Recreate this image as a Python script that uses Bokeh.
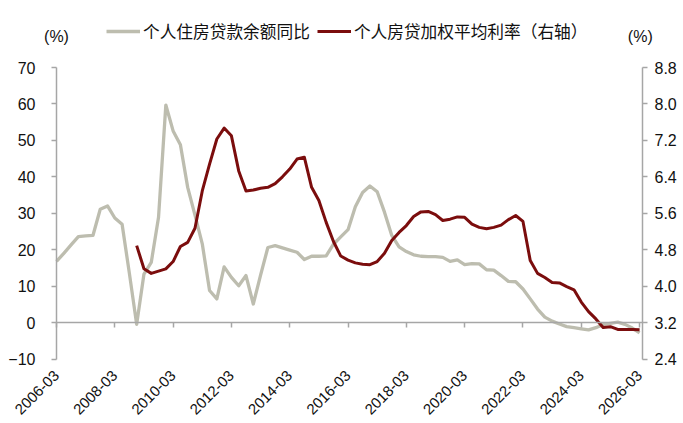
import math
from bokeh.plotting import figure
from bokeh.models import (Range1d, LinearAxis, FixedTicker, Legend, LegendItem,
                          ColumnDataSource, PrintfTickFormatter)
from bokeh.core.properties import value
from bokeh.embed import file_html
from bokeh.resources import INLINE

# ---------------- data ----------------
dates = [f"{y}-{m:02d}" for y in range(2006, 2027) for m in (3, 6, 9, 12)][:81]

x_tick_labels = ["2006-03", "2008-03", "2010-03", "2012-03", "2014-03", "2016-03",
                 "2018-03", "2020-03", "2022-03", "2024-03", "2026-03"]
left_ticks = [-10, 0, 10, 20, 30, 40, 50, 60, 70]
right_ticks = [2.4, 3.2, 4.0, 4.8, 5.6, 6.4, 7.2, 8.0, 8.8]

loan_yoy = [16.8, 19.0, 21.3, 23.6, 23.8, 23.9, 31.1, 32.0, 28.7, 27.0,
            13.5, -0.5, 13.3, 16.5, 28.9, 59.7, 52.6, 48.8, 37.1, 29.5,
            21.6, 8.8, 6.5, 15.3, 12.4, 10.1, 12.9, 5.1, 13.0, 20.6,
            21.1, 20.5, 19.9, 19.3, 17.3, 18.2, 18.2, 18.3, 21.5, 23.5,
            25.5, 31.8, 35.7, 37.5, 35.9, 30.3, 23.9, 20.8, 19.5, 18.6,
            18.2, 18.1, 18.1, 17.9, 16.8, 17.2, 15.9, 16.2, 16.1, 14.5,
            14.4, 12.9, 11.3, 11.2, 9.2, 6.5, 3.7, 1.5, 0.4, -0.4,
            -1.1, -1.4, -1.7, -2.0, -1.4, -0.5, -0.2, 0.1, -0.5, -1.5,
            -2.8]

nan = float("nan")
mortgage_rate = [nan, nan, nan, nan, nan, nan, nan, nan, nan, nan,
                 nan, 4.89, 4.38, 4.28, 4.33, 4.38, 4.54, 4.87, 4.96, 5.27,
                 6.09, 6.68, 7.23, 7.47, 7.30, 6.53, 6.09, 6.11, 6.15, 6.17,
                 6.25, 6.40, 6.57, 6.79, 6.83, 6.17, 5.88, 5.40, 4.98, 4.66,
                 4.57, 4.51, 4.48, 4.47, 4.54, 4.72, 5.00, 5.18, 5.33, 5.53,
                 5.63, 5.64, 5.57, 5.44, 5.47, 5.52, 5.51, 5.36, 5.29, 5.26,
                 5.29, 5.34, 5.46, 5.55, 5.42, 4.56, 4.28, 4.19, 4.08, 4.07,
                 3.99, 3.92, 3.65, 3.44, 3.28, 3.09, 3.11, 3.05, 3.05, 3.05,
                 3.04]

series_names = ["个人住房贷款余额同比", "个人房贷加权平均利率（右轴）"]
unit_labels = ["(%)", "(%)"]

# ---------------- styles / geometry ----------------
GRAY = "#bdbdaf"
RED = "#7b0d0d"
AXIS = "#a6a6a6"
TEXT = "#111111"
NUM_FONT = "Liberation Sans"
CJK_FONT = "Noto Sans CJK SC"

W, H = 683, 423
PX_L, PX_R = 56, 642        # plot area (px)
PX_T, PX_B = 67, 358.5
X_LAST = 80.4
Y0, Y1 = -10, 70
R0, R1 = 2.4, 8.8

sx = (PX_R - PX_L) / X_LAST
sy = (PX_B - PX_T) / (Y1 - Y0)
x_range = Range1d(-PX_L / sx, X_LAST + (W - PX_R) / sx)
y_range = Range1d(Y0 - (H - PX_B) / sy, Y1 + PX_T / sy)
k = (R1 - R0) / (Y1 - Y0)
r_range = Range1d(R0 + (y_range.start - Y0) * k, R0 + (y_range.end - Y0) * k)

idx = list(range(len(dates)))
src = ColumnDataSource(dict(x=idx, yoy=loan_yoy, rate=mortgage_rate))

p = figure(width=W, height=H, output_backend="svg", toolbar_location=None,
           x_range=x_range, y_range=y_range, x_axis_type=None, y_axis_type=None,
           min_border=0)
p.extra_y_ranges = {"right": r_range}
p.outline_line_color = None
p.grid.visible = False


def style_axis(ax, size="16px"):
    ax.axis_line_color = AXIS
    ax.axis_line_width = 1.5
    ax.major_tick_line_color = AXIS
    ax.major_tick_line_width = 1.5
    ax.major_tick_out = 5
    ax.major_tick_in = 0
    ax.minor_tick_line_color = None
    ax.major_label_text_font = NUM_FONT
    ax.major_label_text_font_size = size
    ax.major_label_text_color = TEXT


# left axis pinned at x = 0
la = LinearAxis(ticker=FixedTicker(ticks=left_ticks), fixed_location=0, bounds=(Y0, Y1))
style_axis(la)
la.major_label_standoff = 16
p.add_layout(la, "left")

# right axis pinned at the right edge of the plot area
ra = LinearAxis(y_range_name="right", ticker=FixedTicker(ticks=right_ticks),
                formatter=PrintfTickFormatter(format="%.1f"),
                fixed_location=X_LAST, bounds=(R0, R1))
style_axis(ra)
ra.major_label_standoff = 7
p.add_layout(ra, "right")

# category axis line at zero (ticks only)
tick_idx = [dates.index(t) for t in x_tick_labels]
za = LinearAxis(ticker=FixedTicker(ticks=tick_idx), fixed_location=0, bounds=(0, X_LAST))
style_axis(za)
za.major_label_text_font_size = "0px"
za.major_label_text_alpha = 0
p.add_layout(za, "below")

# date labels at the bottom of the plot area
xa = LinearAxis(ticker=FixedTicker(ticks=tick_idx), fixed_location=Y0)
style_axis(xa, "15px")
xa.axis_line_color = None
xa.major_tick_line_color = None
xa.major_tick_out = 0
xa.major_label_standoff = 14
xa.major_label_overrides = {i: t for i, t in zip(tick_idx, x_tick_labels)}
xa.major_label_orientation = math.pi / 4
p.add_layout(xa, "below")

r1 = p.line("x", "yoy", source=src, line_color=GRAY, line_width=3.3, line_join="round")
r2 = p.line("x", "rate", source=src, line_color=RED, line_width=3.0, line_join="round",
            y_range_name="right")

legend = Legend(items=[LegendItem(label=series_names[0], renderers=[r1]),
                       LegendItem(label=series_names[1], renderers=[r2])],
                location=(106, H - 33 - 10), orientation="horizontal",
                glyph_width=34, glyph_height=18, label_standoff=3, spacing=7,
                padding=0, margin=0, border_line_color=None,
                background_fill_alpha=0, label_height=20,
                label_text_font=CJK_FONT, label_text_font_size="16.7px",
                label_text_color=TEXT)
p.add_layout(legend)

p.text(x=[0, X_LAST - 0.3], y=[Y1 + 8.6, Y1 + 8.6], text=unit_labels, text_align="center",
       text_baseline="middle", text_font=value(NUM_FONT),
       text_font_size="16px", text_color=TEXT)

open("out.html", "w").write(file_html(p, INLINE))
